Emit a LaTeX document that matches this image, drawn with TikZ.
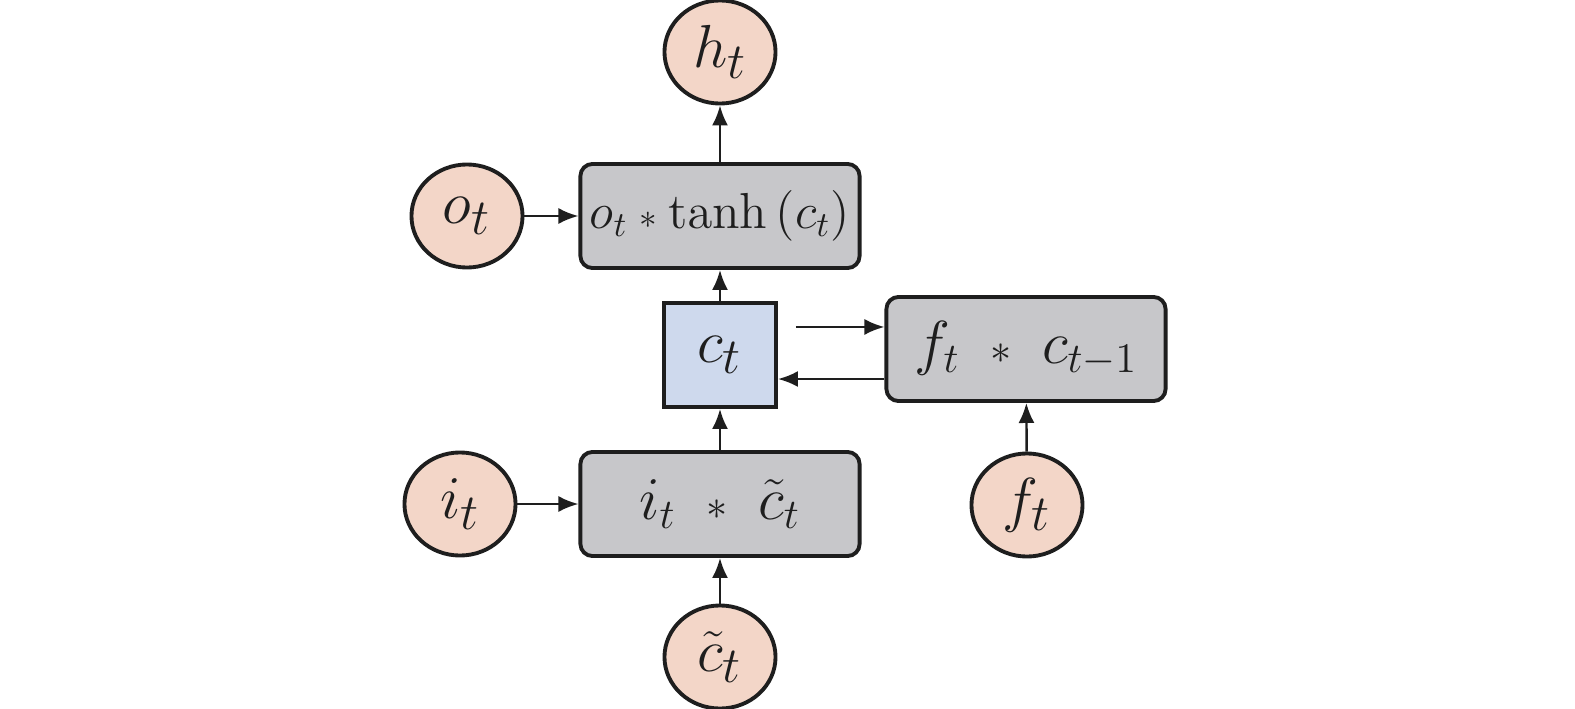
\documentclass[tikz,border=0pt]{standalone}
\usepackage{amsmath}
\usepackage{amssymb}
\usetikzlibrary{positioning,arrows.meta,shapes.geometric}

\definecolor{gatefill}{RGB}{243,214,200}
\definecolor{opfill}{RGB}{199,199,202}
\definecolor{cellfill}{RGB}{206,217,237}
\definecolor{inkline}{RGB}{30,30,30}

\newcommand{\opstar}{\mathbin{\scriptstyle\ast}}

\tikzset{
  gate/.style={ellipse, draw=inkline, line width=1.1pt, fill=gatefill,
    minimum width=1.11cm, minimum height=1.03cm, inner sep=0pt},
  opbox/.style={rectangle, rounded corners=0.12cm, draw=inkline, line width=1.1pt,
    fill=opfill, minimum width=2.79cm, minimum height=1.04cm, inner sep=0pt,
    font=\fontsize{18}{21}\selectfont},
  cellbox/.style={rectangle, draw=inkline, line width=1.1pt, fill=cellfill,
    minimum width=1.12cm, minimum height=1.04cm, inner sep=0pt},
  flow/.style={-{Latex[length=2mm,width=1.6mm]}, line width=0.7pt, draw=inkline}
}

\begin{document}
\begin{tikzpicture}[x=0.01cm, y=-0.01cm, font=\fontsize{19}{22}\selectfont, text=inkline]
\useasboundingbox (0,0) rectangle (1575,709);
% output side
\node[gate]   (ht)   at (720,52)  {$h_t$};
\node[opbox, font=\fontsize{14.5}{17}\selectfont] (obox) at (720,216) {$o_t \opstar \tanh\,(c_t)$};
\node[gate]   (ot)   at (467,216) {$o_t$};
% cell state and forget path
\node[cellbox] (ct)  at (720,355) {$c_t$};
\node[opbox]  (fbox) at (1026,349) {$f_t \;\opstar\; c_{t-1}$};
\node[gate]   (ft)   at (1027,505) {$f_t$};
% input side
\node[opbox]  (ibox) at (720,504) {$i_t \;\opstar\; \tilde{c}_t$};
\node[gate]   (it)   at (460,504) {$i_t$};
\node[gate]   (ctil) at (720,657) {$\tilde{c}_t$};

\draw[flow] (obox) -- (ht);
\draw[flow] (ot) -- (obox);
\draw[flow] (ct) -- (obox);
\coordinate (upstart) at ([xshift=0.18cm,yshift=0.28cm]ct.east);
\coordinate (backin) at ([yshift=-0.24cm]ct.east);
\draw[flow] (upstart) -- (upstart -| fbox.west);
\draw[flow] (backin -| fbox.west) -- (backin);
\draw[flow] (ft) -- (fbox);
\draw[flow] (ibox) -- (ct);
\draw[flow] (it) -- (ibox);
\draw[flow] (ctil) -- (ibox);
\end{tikzpicture}
\end{document}
